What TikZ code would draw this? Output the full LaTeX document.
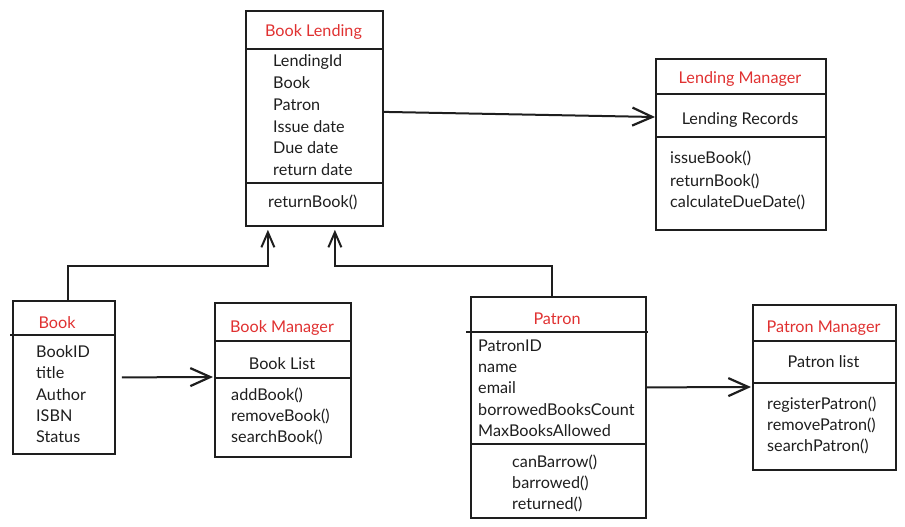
\documentclass[tikz,border=0pt]{standalone}
\usepackage{fontspec}
\setmainfont{Lato}
\usetikzlibrary{arrows.meta}
\definecolor{ink}{HTML}{1E1E1E}
\definecolor{titlered}{HTML}{E03131}
\begin{document}
\begin{tikzpicture}[x=1pt,y=-1pt,
  box/.style={draw=ink,line width=1.8pt,anchor=north west,inner sep=0pt},
  sep/.style={draw=ink,line width=1.8pt},
  txt/.style={text=ink,font=\fontsize{16.2}{19}\selectfont,anchor=base west,inner sep=0pt},
  ttl/.style={text=titlered,font=\fontsize{16.2}{19}\selectfont,anchor=base,inner sep=0pt},
  arr/.style={draw=ink,line width=2pt,-{Straight Barb[length=20pt,width=18pt,line width=2.2pt]}},
  arrs/.style={draw=ink,line width=1.8pt,-{Straight Barb[length=15pt,width=13pt,line width=2pt]}}]
\useasboundingbox (0,0) rectangle (905,527);

% Book Lending
\node[box,minimum width=137pt,minimum height=215pt] (bl) at (245,10) {};
\draw[sep] (245,49) -- (382,49);
\draw[sep] (245,183) -- (382,183);
\node[ttl] (blt) at (313.5,36.5) {Book Lending};
\node[txt] (bl1) at (273,66.5) {LendingId};
\node[txt] (bl2) at (273,88.5) {Book};
\node[txt] (bl3) at (273,110.5) {Patron};
\node[txt] (bl4) at (273,132.5) {Issue date};
\node[txt] (bl5) at (273,153.5) {Due date};
\node[txt] (bl6) at (273,175.5) {return date};
\node[txt] (bl7) at (268,207.5) {returnBook()};

% Lending Manager
\node[box,minimum width=170pt,minimum height=171pt] (lm) at (655,58) {};
\draw[sep] (655,94) -- (825,94);
\draw[sep] (655,137) -- (825,137);
\node[ttl] (lmt) at (740,83.5) {Lending Manager};
\node[txt,anchor=base] (lrec) at (740,124.5) {Lending Records};
\node[txt] (lm1) at (670,163.5) {issueBook()};
\node[txt] (lm2) at (670,186.5) {returnBook()};
\node[txt] (lm3) at (670,207.5) {calculateDueDate()};

% Book
\node[box,minimum width=102pt,minimum height=153pt] (bk) at (12,300) {};
\draw[sep] (10,335) -- (115,335);
\node[ttl] (bkt) at (57,328.5) {Book};
\node[txt] (bk1) at (36,357.5) {BookID};
\node[txt] (bk2) at (36,378.5) {title};
\node[txt] (bk3) at (36,400.5) {Author};
\node[txt] (bk4) at (36,421.5) {ISBN};
\node[txt] (bk5) at (36,442.5) {Status};

% Book Manager
\node[box,minimum width=136pt,minimum height=154pt] (bm) at (214,302) {};
\draw[sep] (214,341) -- (350,341);
\draw[sep] (214,378) -- (350,378);
\node[ttl] (bmt) at (282,332.5) {Book Manager};
\node[txt,anchor=base] (bml) at (282,369.5) {Book List};
\node[txt] (bm1) at (231,400.5) {addBook()};
\node[txt] (bm2) at (231,421.5) {removeBook()};
\node[txt] (bm3) at (231,442.5) {searchBook()};

% Patron
\node[box,minimum width=175pt,minimum height=221pt] (pt) at (470,296) {};
\draw[sep] (466,332) -- (648,332);
\draw[sep] (470,444) -- (645,444);
\node[ttl] (ptt) at (557,324.5) {Patron};
\node[txt] (pt1) at (478,351.5) {PatronID};
\node[txt] (pt2) at (478,372.5) {name};
\node[txt] (pt3) at (478,393.5) {email};
\node[txt] (pt4) at (478,415.5) {borrowedBooksCount};
\node[txt] (pt5) at (478,436.5) {MaxBooksAllowed};
\node[txt] (pt6) at (512,467.5) {canBarrow()};
\node[txt] (pt7) at (512,488.5) {barrowed()};
\node[txt] (pt8) at (512,509.5) {returned()};

% Patron Manager
\node[box,minimum width=143pt,minimum height=165pt] (pm) at (752,304) {};
\draw[sep] (752,341) -- (895,341);
\draw[sep] (752,383) -- (895,383);
\node[ttl] (pmt) at (823.5,332.5) {Patron Manager};
\node[txt,anchor=base] (pml) at (823.5,367.5) {Patron list};
\node[txt] (pm1) at (767,409.5) {registerPatron()};
\node[txt] (pm2) at (767,430.5) {removePatron()};
\node[txt] (pm3) at (767,451.5) {searchPatron()};

% connectors
\draw[arr] ([yshift=6.5pt]bl.east) -- (lm.west |- 0,117);
\draw[arr] ([xshift=6pt]bk.east) -- ([xshift=-1pt]bm.west |- 0,377);
\draw[arr] ([yshift=20pt]pt.east) -- ([xshift=-1pt]pm.west |- 0,387);
\draw[arrs] ([xshift=4pt]bk.north) -- ++(0,-34) -| ([xshift=-46.5pt,yshift=-3pt]bl.south);
\draw[arrs] ([xshift=-6.5pt]pt.north) -- ++(0,-30) -| ([xshift=20.5pt,yshift=-3pt]bl.south);
\end{tikzpicture}
\end{document}
